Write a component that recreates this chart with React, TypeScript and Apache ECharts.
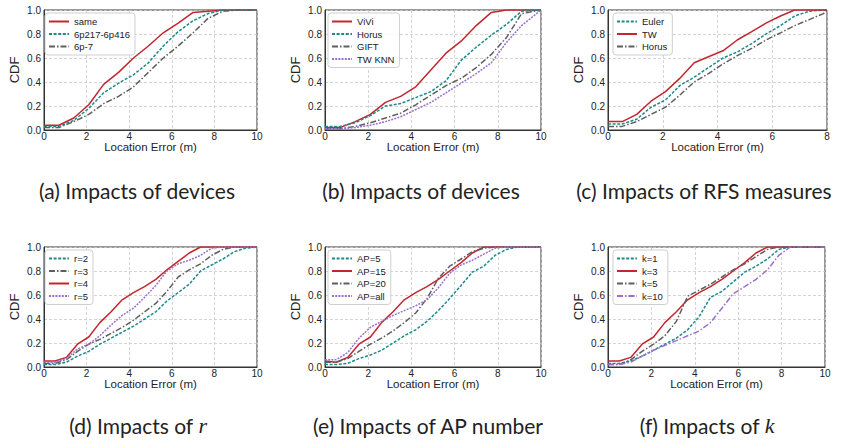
import React, { useEffect, useRef } from "react";
import * as echarts from "echarts";

// ---------- data ----------
const xsAB = [0, 0.7, 1.4, 2.1, 2.8, 3.5, 4.2, 4.9, 5.6, 6.3, 7.0, 7.7, 8.4, 9.1, 10];
const xsC = [0, 0.52, 1.05, 1.57, 2.1, 2.62, 3.15, 3.67, 4.2, 4.72, 5.25, 5.77, 6.3, 6.82, 7.35, 7.87, 8];
const xsDEF = [0, 0.52, 1.05, 1.57, 2.1, 2.62, 3.15, 3.67, 4.2, 4.72, 5.25, 5.77, 6.3, 6.82, 7.35, 7.87, 8.4, 8.92, 9.45, 10];

// (a) Impacts of devices
const aSame = [0.04, 0.04, 0.10, 0.21, 0.38, 0.48, 0.60, 0.70, 0.81, 0.89, 0.98, 0.99, 1, 1, 1];
const a6p217 = [0.03, 0.03, 0.08, 0.18, 0.31, 0.39, 0.46, 0.56, 0.70, 0.82, 0.91, 0.97, 1, 1, 1];
const a6p7 = [0.02, 0.02, 0.07, 0.13, 0.22, 0.28, 0.36, 0.48, 0.60, 0.70, 0.81, 0.93, 0.99, 1, 1];
// (b) Impacts of devices
const bViVi = [0.02, 0.02, 0.07, 0.13, 0.23, 0.28, 0.36, 0.50, 0.64, 0.74, 0.87, 0.98, 1, 1, 1];
const bHorus = [0.03, 0.03, 0.06, 0.12, 0.20, 0.22, 0.27, 0.32, 0.41, 0.58, 0.69, 0.79, 0.88, 0.99, 1];
const bGIFT = [0.01, 0.01, 0.03, 0.06, 0.10, 0.14, 0.21, 0.29, 0.37, 0.43, 0.52, 0.63, 0.77, 0.97, 1];
const bTWKNN = [0.01, 0.01, 0.02, 0.04, 0.07, 0.11, 0.17, 0.23, 0.31, 0.39, 0.47, 0.56, 0.73, 0.87, 1];
// (c) Impacts of RFS measures
const cEuler = [0.05, 0.05, 0.09, 0.19, 0.25, 0.37, 0.44, 0.52, 0.60, 0.65, 0.72, 0.80, 0.87, 0.95, 0.99, 1, 1];
const cTW = [0.07, 0.07, 0.13, 0.24, 0.32, 0.43, 0.56, 0.61, 0.66, 0.75, 0.82, 0.89, 0.95, 1, 1, 1, 1];
const cHorus = [0.03, 0.03, 0.07, 0.13, 0.19, 0.29, 0.40, 0.47, 0.55, 0.62, 0.68, 0.75, 0.81, 0.87, 0.92, 0.97, 1];
// (d) Impacts of r
const dR2 = [0.02, 0.02, 0.04, 0.09, 0.13, 0.19, 0.24, 0.29, 0.34, 0.40, 0.46, 0.55, 0.62, 0.69, 0.80, 0.85, 0.90, 0.96, 0.99, 1];
const dR3 = [0.03, 0.03, 0.06, 0.13, 0.19, 0.23, 0.28, 0.33, 0.39, 0.46, 0.53, 0.63, 0.75, 0.81, 0.86, 0.93, 0.98, 1, 1, 1];
const dR4 = [0.05, 0.05, 0.08, 0.19, 0.25, 0.37, 0.46, 0.56, 0.62, 0.67, 0.73, 0.81, 0.88, 0.95, 1, 1, 1, 1, 1, 1];
const dR5 = [0.04, 0.04, 0.07, 0.15, 0.19, 0.26, 0.35, 0.43, 0.49, 0.58, 0.68, 0.80, 0.86, 0.89, 0.93, 0.99, 1, 1, 1, 1];
// (e) Impacts of AP number
const eAP5 = [0.02, 0.02, 0.03, 0.07, 0.10, 0.14, 0.20, 0.26, 0.31, 0.38, 0.47, 0.57, 0.68, 0.79, 0.84, 0.93, 0.98, 1, 1, 1];
const eAP15 = [0.05, 0.04, 0.08, 0.19, 0.25, 0.37, 0.46, 0.56, 0.62, 0.67, 0.73, 0.80, 0.87, 0.95, 1, 1, 1, 1, 1, 1];
const eAP20 = [0.04, 0.04, 0.07, 0.13, 0.19, 0.24, 0.30, 0.37, 0.45, 0.57, 0.74, 0.84, 0.90, 0.96, 0.99, 1, 1, 1, 1, 1];
const eAPall = [0.06, 0.06, 0.12, 0.24, 0.33, 0.38, 0.43, 0.47, 0.51, 0.56, 0.66, 0.78, 0.85, 0.89, 0.94, 0.99, 1, 1, 1, 1];
// (f) Impacts of k
const fK1 = [0.03, 0.03, 0.05, 0.09, 0.14, 0.19, 0.24, 0.31, 0.42, 0.58, 0.63, 0.71, 0.79, 0.84, 0.90, 0.98, 1, 1, 1, 1];
const fK3 = [0.05, 0.05, 0.08, 0.19, 0.25, 0.37, 0.46, 0.56, 0.62, 0.67, 0.73, 0.80, 0.87, 0.95, 1, 1, 1, 1, 1, 1];
const fK5 = [0.02, 0.02, 0.06, 0.13, 0.19, 0.26, 0.38, 0.59, 0.64, 0.69, 0.75, 0.81, 0.86, 0.92, 0.98, 1, 1, 1, 1, 1];
const fK10 = [0.02, 0.02, 0.04, 0.09, 0.14, 0.18, 0.22, 0.26, 0.30, 0.37, 0.49, 0.61, 0.67, 0.73, 0.81, 0.93, 1, 1, 1, 1];

// ---------- styles ----------
const RED = { color: "#c3262e", type: "solid" };
const TEAL = { color: "#1c8a8b", type: [3, 1.6] };
const GRAY = { color: "#5f5f5f", type: [6, 2, 1.5, 2] };
const PURPLE_DOT = { color: "#9a6fcf", type: [2, 1.2] };
const PURPLE_DASHDOT = { color: "#9a6fcf", type: [6, 2, 1.5, 2] };

const AXF = "'Liberation Sans', Arial, sans-serif";
const CAPF = "Lato, 'Open Sans', sans-serif";

type S = { name: string; ys: number[]; st: any };
type Cell = {
  x: number; y: number; w: number; h: number;
  gl: number; gt: number; gw: number; gh: number;
  xmax: number; xs: number[]; series: S[];
  cap: string; capX: number; capY: number;
};

const cells: Cell[] = [
  {
    x: 0, y: 0, w: 281, h: 222, gl: 40, gt: 10, gw: 217, gh: 120, xmax: 10, xs: xsAB,
    series: [
      { name: "same", ys: aSame, st: RED },
      { name: "6p217-6p416", ys: a6p217, st: TEAL },
      { name: "6p-7", ys: a6p7, st: GRAY },
    ],
    cap: "(a) Impacts of devices", capX: 137, capY: 190,
  },
  {
    x: 281, y: 0, w: 281, h: 222, gl: 42, gt: 10, gw: 218, gh: 120, xmax: 10, xs: xsAB,
    series: [
      { name: "ViVi", ys: bViVi, st: RED },
      { name: "Horus", ys: bHorus, st: TEAL },
      { name: "GIFT", ys: bGIFT, st: GRAY },
      { name: "TW KNN", ys: bTWKNN, st: PURPLE_DOT },
    ],
    cap: "(b) Impacts of devices", capX: 140, capY: 190,
  },
  {
    x: 562, y: 0, w: 282, h: 222, gl: 46, gt: 10, gw: 219, gh: 120, xmax: 8, xs: xsC,
    series: [
      { name: "Euler", ys: cEuler, st: TEAL },
      { name: "TW", ys: cTW, st: RED },
      { name: "Horus", ys: cHorus, st: GRAY },
    ],
    cap: "(c) Impacts of RFS measures", capX: 142, capY: 190,
  },
  {
    x: 0, y: 222, w: 281, h: 223, gl: 40, gt: 25, gw: 217, gh: 120, xmax: 10, xs: xsDEF,
    series: [
      { name: "r=2", ys: dR2, st: TEAL },
      { name: "r=3", ys: dR3, st: GRAY },
      { name: "r=4", ys: dR4, st: RED },
      { name: "r=5", ys: dR5, st: PURPLE_DOT },
    ],
    cap: "(d) Impacts of {i|r}", capX: 138, capY: 203,
  },
  {
    x: 281, y: 222, w: 281, h: 223, gl: 42, gt: 25, gw: 218, gh: 120, xmax: 10, xs: xsDEF,
    series: [
      { name: "AP=5", ys: eAP5, st: TEAL },
      { name: "AP=15", ys: eAP15, st: RED },
      { name: "AP=20", ys: eAP20, st: GRAY },
      { name: "AP=all", ys: eAPall, st: PURPLE_DOT },
    ],
    cap: "(e) Impacts of AP number", capX: 147, capY: 203,
  },
  {
    x: 562, y: 222, w: 282, h: 223, gl: 46, gt: 25, gw: 217, gh: 120, xmax: 10, xs: xsDEF,
    series: [
      { name: "k=1", ys: fK1, st: TEAL },
      { name: "k=3", ys: fK3, st: RED },
      { name: "k=5", ys: fK5, st: GRAY },
      { name: "k=10", ys: fK10, st: PURPLE_DASHDOT },
    ],
    cap: "(f) Impacts of {i|k}", capX: 145, capY: 203,
  },
];

function makeOption(c: Cell) {
  const split = { show: true, lineStyle: { color: "#c9c9c9", type: [3, 2], width: 0.8 } };
  const axLine = { show: true, lineStyle: { color: "#333", width: 1 } };
  return {
    animation: false,
    grid: {
      left: c.gl, top: c.gt, width: c.gw, height: c.gh,
      show: true, borderColor: "#333", borderWidth: 1, backgroundColor: "transparent",
    },
    xAxis: {
      type: "value", min: 0, max: c.xmax, interval: 2,
      name: "Location Error (m)", nameLocation: "middle", nameGap: 11, nameMoveOverlap: false,
      nameTextStyle: { fontFamily: AXF, fontSize: 11.5, color: "#222", lineHeight: 12 },
      axisLine: axLine, axisTick: { show: false },
      axisLabel: { margin: 1, fontFamily: AXF, fontSize: 10, color: "#222", lineHeight: 10 },
      splitLine: split,
    },
    yAxis: {
      type: "value", min: 0, max: 1, interval: 0.2,
      name: "CDF", nameLocation: "middle", nameGap: 23, nameRotate: 90, nameMoveOverlap: false,
      nameTextStyle: { fontFamily: AXF, fontSize: 13, color: "#222" },
      axisLine: axLine, axisTick: { show: false },
      axisLabel: {
        margin: 3, fontFamily: AXF, fontSize: 10, color: "#222",
        formatter: (v: number) => v.toFixed(1),
      },
      splitLine: split,
    },
    legend: {
      orient: "vertical", left: c.gl + 5, top: c.gt + 3,
      itemWidth: 20, itemHeight: 8, itemGap: 1.5,
      padding: [3, 5, 3, 3],
      borderColor: "#cfcfcf", borderWidth: 1, borderRadius: 3,
      backgroundColor: "rgba(255,255,255,0.85)",
      itemStyle: { opacity: 0, color: "transparent", borderWidth: 0 },
      textStyle: { fontFamily: AXF, fontSize: 9.5, color: "#222", lineHeight: 11 },
      data: c.series.map((s) => s.name),
    },
    series: c.series.map((s) => ({
      type: "line", name: s.name,
      data: c.xs.map((x, i) => [x, s.ys[i]]),
      symbol: "none", showSymbol: false, smooth: false, clip: true,
      lineStyle: { color: s.st.color, width: 1.5, type: s.st.type },
      itemStyle: { color: s.st.color },
    })),
    graphic: [
      {
        type: "text", x: c.capX, y: c.capY, silent: true,
        style: {
          text: c.cap, fontFamily: CAPF, fontSize: 21, fill: "#222",
          align: "center", verticalAlign: "middle",
          rich: {
            i: { fontFamily: "'Liberation Serif', serif", fontStyle: "italic", fontSize: 22, fill: "#222" },
          },
        },
      },
    ],
  };
}

function ChartCell({ c }: { c: Cell }) {
  const ref = useRef<HTMLDivElement>(null);
  useEffect(() => {
    if (!ref.current) return;
    const chart = echarts.init(ref.current, undefined, { renderer: "svg" });
    chart.setOption(makeOption(c) as any);
    return () => chart.dispose();
  }, [c]);
  return (
    <div
      ref={ref}
      style={{ position: "absolute", left: c.x, top: c.y, width: c.w, height: c.h }}
    />
  );
}

export default function App() {
  return (
    <div style={{ position: "fixed", left: 0, top: 0, width: 844, height: 445, background: "#fff" }}>
      {cells.map((c, i) => (
        <ChartCell key={i} c={c} />
      ))}
    </div>
  );
}
